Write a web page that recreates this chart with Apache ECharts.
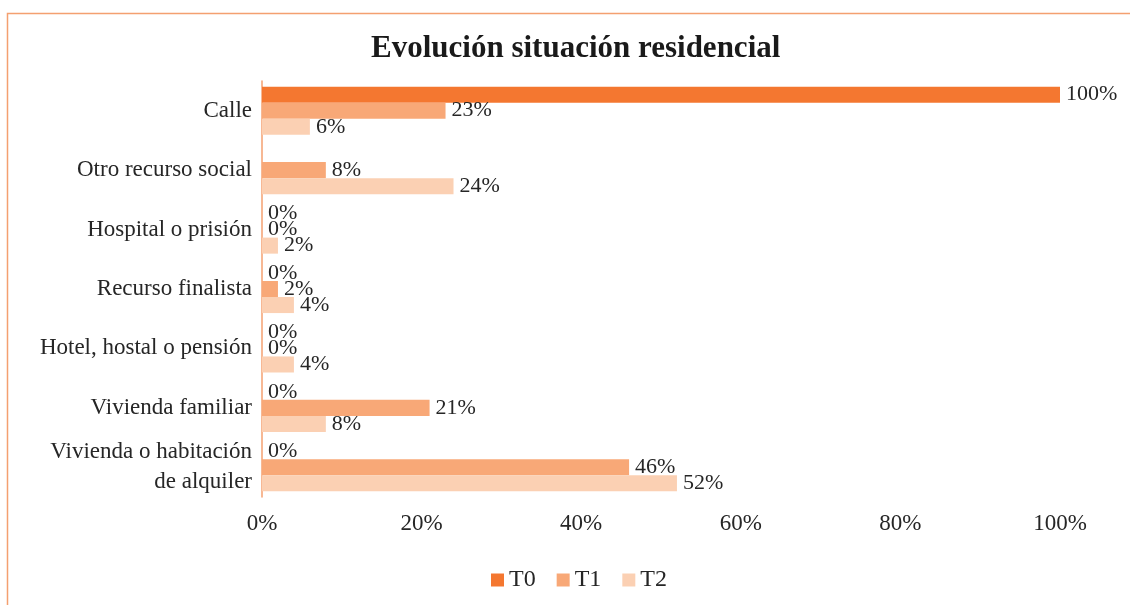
<!DOCTYPE html>
<html><head><meta charset="utf-8">
<script src="https://cdn.jsdelivr.net/npm/echarts@6/dist/echarts.min.js"></script>
<style>html,body{margin:0;padding:0;background:#fff}#c{width:1130px;height:605px}</style>
</head><body><div id="c"></div>
<script>
const categories = ["Calle", "Otro recurso social", "Hospital o prisión", "Recurso finalista", "Hotel, hostal o pensión", "Vivienda familiar", "Vivienda o habitación\nde alquiler"];
const seriesNames = ["T0", "T1", "T2"];
const t0 = [100, null, 0, 0, 0, 0, 0];
const t1 = [23, 8, 0, 2, 0, 21, 46];
const t2 = [6, 24, 2, 4, 4, 8, 52];
const xTicks = [0, 20, 40, 60, 80, 100];
const colors = ["#F47730", "#F8A877", "#FBD0B3"];
const font = "'Liberation Serif', 'DejaVu Serif', serif";

const chart = echarts.init(document.getElementById('c'), null, {renderer: 'canvas'});
const data = [t0, t1, t2];
chart.setOption({
  animation: false,
  textStyle: {fontFamily: font},
  title: {
    text: "Evolución situación residencial",
    left: 366, top: 28,
    textStyle: {fontFamily: font, fontSize: 31, fontWeight: 'bold', color: '#1a1a1a'}
  },
  graphic: [{
    type: 'rect', shape: {x: 7.5, y: 13.5, width: 1200, height: 700},
    style: {fill: 'none', stroke: '#F4A070', lineWidth: 1.5}, silent: true
  }],
  legend: {
    bottom: 8, left: 486, itemWidth: 13, itemHeight: 13, itemGap: 21,
    icon: 'rect',
    textStyle: {fontFamily: font, fontSize: 24, color: '#262626'},
    data: seriesNames
  },
  grid: {left: 262, right: 70, top: 81, bottom: 108, containLabel: false},
  xAxis: {
    type: 'value', min: 0, max: 100, interval: 20,
    axisLine: {show: false}, axisTick: {show: false}, splitLine: {show: false},
    axisLabel: {formatter: v => xTicks.includes(v) ? v + '%' : '', fontFamily: font, fontSize: 23, color: '#262626', margin: 15}
  },
  yAxis: {
    type: 'category', data: categories, inverse: true,
    axisLine: {show: true, lineStyle: {color: '#F4A070', width: 1.5}},
    axisTick: {show: false},
    axisLabel: {fontFamily: font, fontSize: 23, color: '#262626', margin: 10, lineHeight: 30, align: 'right'}
  },
  series: seriesNames.map((n, i) => ({
    name: n, type: 'bar', data: data[i],
    barGap: '0%', barCategoryGap: '19%',
    itemStyle: {color: colors[i]},
    label: {show: true, position: 'right', distance: 6, formatter: p => p.value + '%', fontFamily: font, fontSize: 22, color: '#262626'}
  }))
});
</script></body></html>
